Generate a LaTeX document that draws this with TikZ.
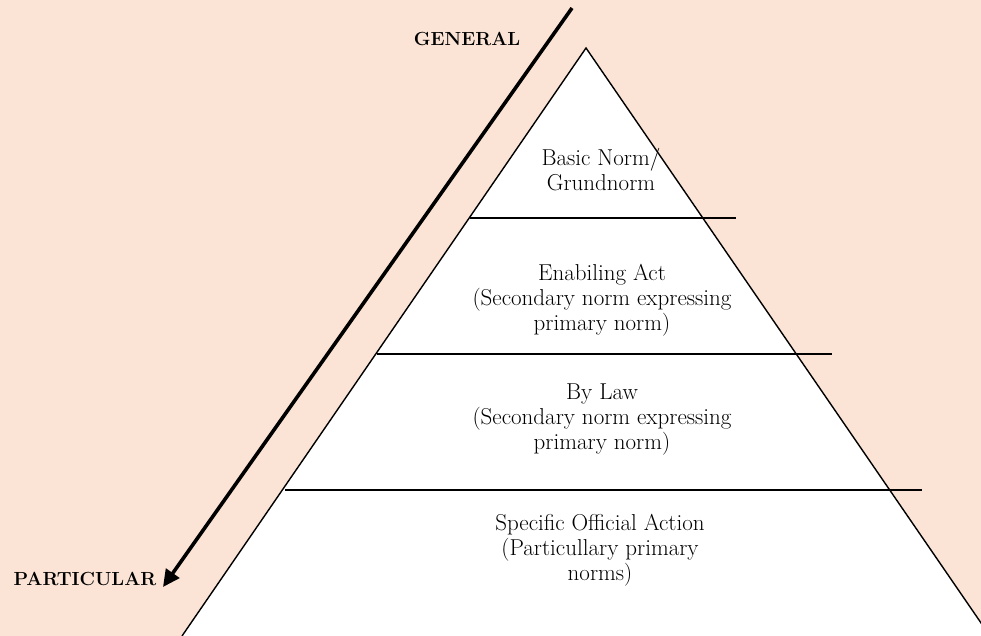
\documentclass[tikz,border=0pt]{standalone}
\usetikzlibrary{arrows.meta}
\definecolor{peach}{HTML}{FBE4D5}
\begin{document}
\begin{tikzpicture}[x=1pt,y=-1pt,
		level text/.style={align=center,font=\fontsize{23}{25}\selectfont},
		side text/.style={font=\fontsize{19}{22}\selectfont\bfseries},
		edge line/.style={line width=1.4pt},
		level line/.style={line width=2.2pt},
		arrow line/.style={line width=3.6pt,-{Triangle[length=17pt,width=16pt]}}]
		% 背景
		\fill[peach] (0,0) rectangle (981,636);
		\useasboundingbox (0,0) rectangle (981,636);
		\clip (0,0) rectangle (981,636);
		% 三角形
		\coordinate (top) at (586,48);
		\coordinate (bl) at (182,636);
		\coordinate (br) at (990,636);
		\fill[white] (top) -- (bl) -- (br) -- cycle;
		\draw[edge line] (bl) -- (top) -- (br);
		% 分层线
		\coordinate (l1a) at (470,218);
		\coordinate (l1b) at (736,218);
		\coordinate (l2a) at (377,354);
		\coordinate (l2b) at (832,354);
		\coordinate (l3a) at (285,490);
		\coordinate (l3b) at (922,490);
		\draw[level line] (l1a) -- (l1b);
		\draw[level line] (l2a) -- (l2b);
		\draw[level line] (l3a) -- (l3b);
		% 文字
		\node[level text] (basic) at (601,170) {Basic Norm/\\Grundnorm};
		\node[level text] (enab) at (602,300) {Enabiling Act\\(Secondary norm expressing\\primary norm)};
		\node[level text] (bylaw) at (602,420) {By Law\\(Secondary norm expressing\\primary norm)};
		\node[level text] (spec) at (600,550) {Specific Official Action\\(Particullary primary\\norms)};
		% 箭头
		\coordinate (gen) at (572,8);
		\coordinate (part) at (163,587);
		\draw[arrow line] (gen) -- (part);
		\node[side text] (general) at (467,39) {GENERAL};
		\node[side text] (particular) at (85,579) {PARTICULAR};
\end{tikzpicture}
\end{document}
